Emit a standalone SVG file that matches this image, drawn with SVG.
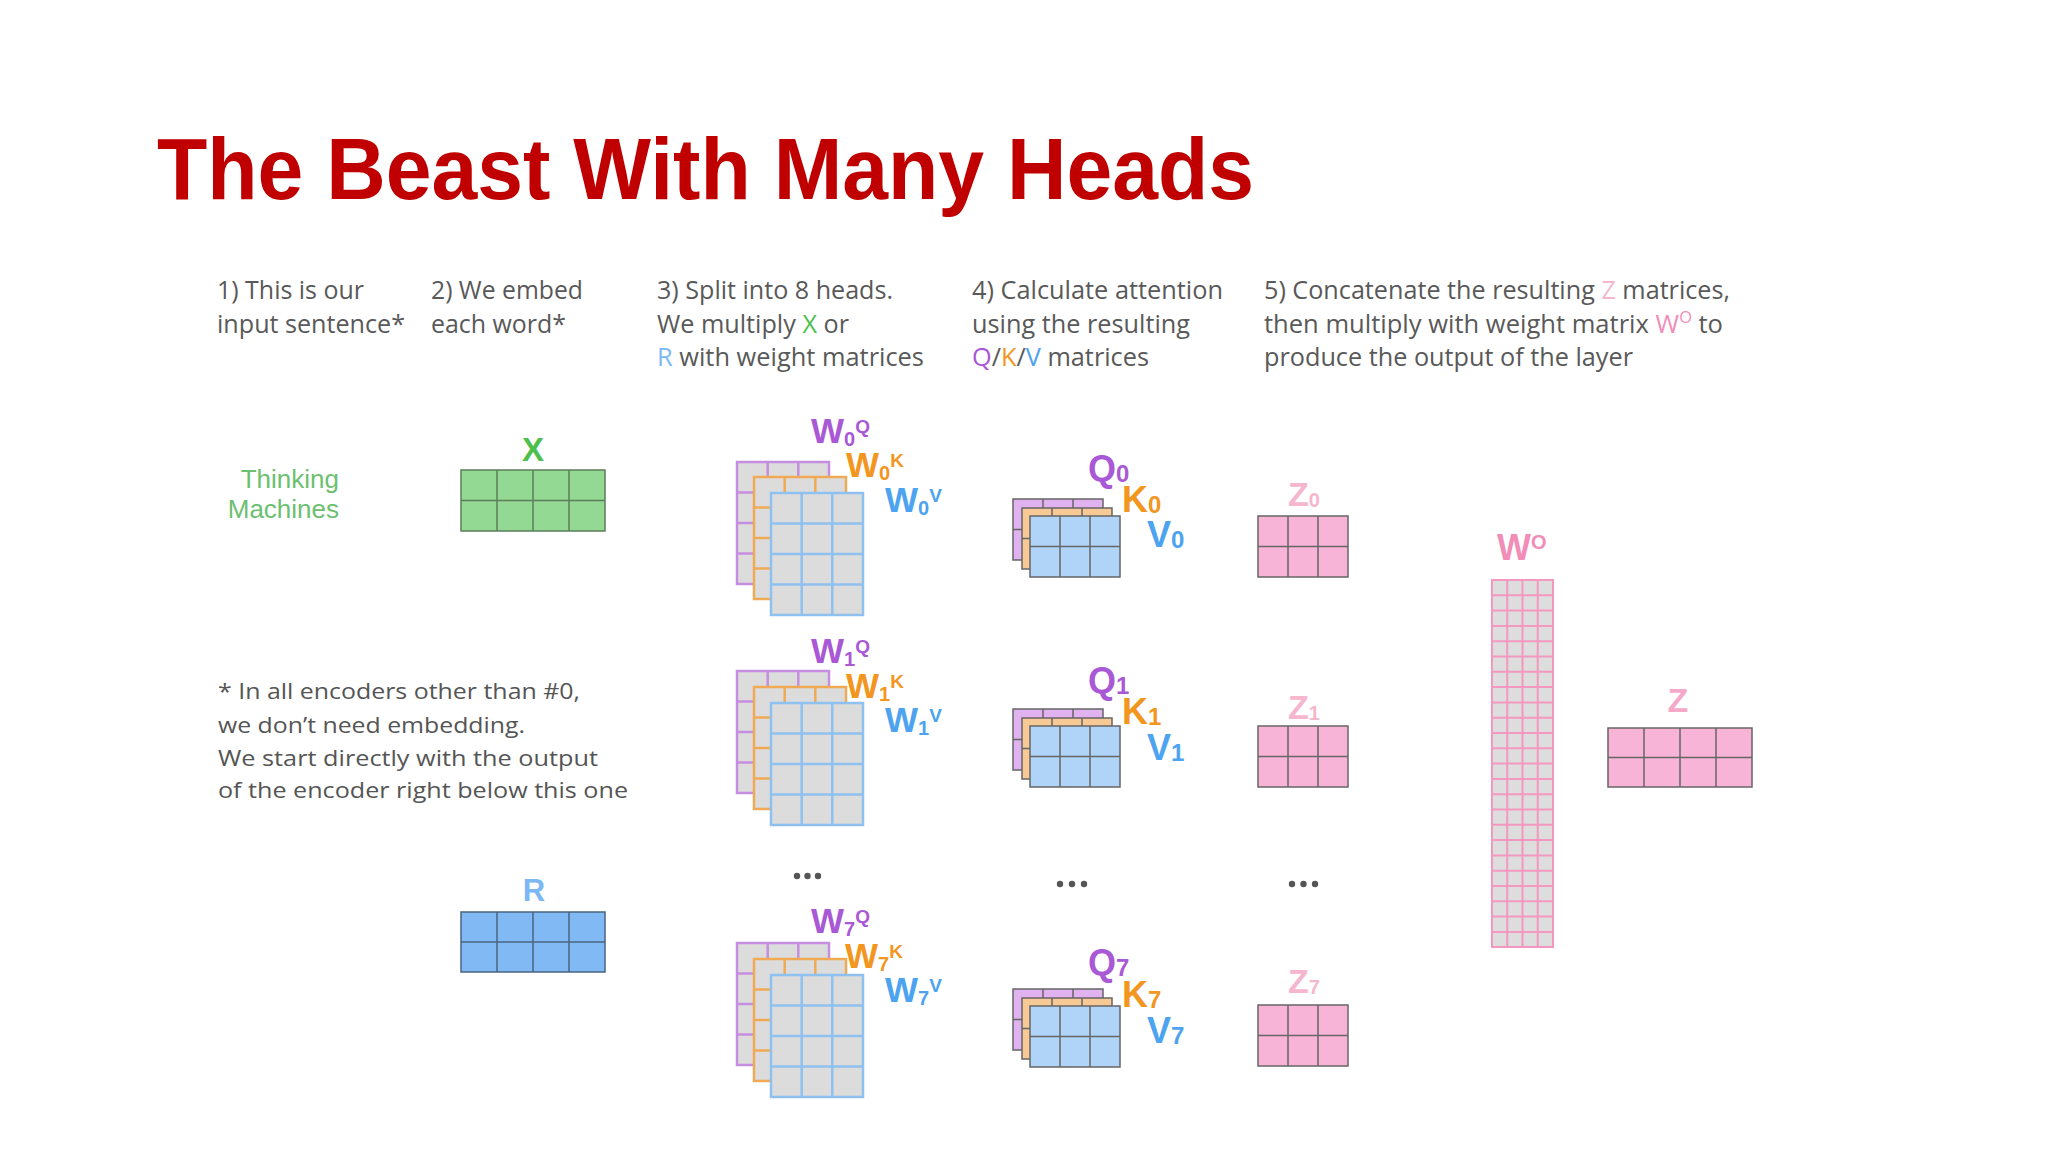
<svg xmlns="http://www.w3.org/2000/svg" xmlns:xlink="http://www.w3.org/1999/xlink" width="2048" height="1152" viewBox="0 0 2048 1152">
<style>
.title{font-family:"Liberation Sans",Arial,sans-serif;font-weight:bold;font-size:88px;fill:#C00000}
.step{font-family:"Open Sans","Liberation Sans",sans-serif;font-size:25px;fill:#595959}
.note{font-family:"Open Sans","Liberation Sans",sans-serif;font-size:21.5px;fill:#555}
.lbl{font-family:"Liberation Sans",Arial,sans-serif;font-weight:bold}
.wl{font-size:35px}
.wsub{font-size:20px}
.wsup{font-size:19px}
.ql{font-size:36px}
.qsub{font-size:24px}
.zl{font-size:34px}
.zsub{font-size:20px}
.pur{fill:#A958D6}.ora{fill:#F2961F}.blu{fill:#4DA3F0}
.grn{fill:#4CBF4C}.lblu{fill:#7CB9F4}.lpink{fill:#F5B6CE}.pink{fill:#F28DB8}
.thin{font-family:"Liberation Sans",Arial,sans-serif;font-size:26px;fill:#6CC070}
.dot{fill:#555}
</style>
<defs>
<g id="wm"><rect width="92" height="122" fill="#DCDCDC" stroke="currentColor" stroke-width="2.5"/><path d="M30.7 0V122M61.3 0V122M0 30.5H92M0 61H92M0 91.5H92" fill="none" stroke="currentColor" stroke-width="2.5"/></g>
<g id="qm"><rect width="90" height="61" fill="currentColor" stroke="#666" stroke-width="1.5"/><path d="M30 0V61M60 0V61M0 30.5H90" fill="none" stroke="#666" stroke-width="1.5"/></g>
</defs>
<rect width="2048" height="1152" fill="#FFFFFF"/>
<text class="title" x="157" y="199" textLength="1097" lengthAdjust="spacingAndGlyphs">The Beast With Many Heads</text>

<g id="step-texts">
<text class="step" x="217" y="299" textLength="147" lengthAdjust="spacingAndGlyphs">1) This is our</text>
<text class="step" x="217" y="333" textLength="188" lengthAdjust="spacingAndGlyphs">input sentence*</text>
<text class="step" x="431" y="299" textLength="152" lengthAdjust="spacingAndGlyphs">2) We embed</text>
<text class="step" x="431" y="333" textLength="135" lengthAdjust="spacingAndGlyphs">each word*</text>
<text class="step" x="657" y="299" textLength="236" lengthAdjust="spacingAndGlyphs">3) Split into 8 heads.</text>
<text class="step" x="657" y="333" textLength="192" lengthAdjust="spacingAndGlyphs">We multiply <tspan class="grn">X</tspan> or</text>
<text class="step" x="657" y="366" textLength="267" lengthAdjust="spacingAndGlyphs"><tspan class="lblu">R</tspan> with weight matrices</text>
<text class="step" x="972" y="299" textLength="251" lengthAdjust="spacingAndGlyphs">4) Calculate attention</text>
<text class="step" x="972" y="333" textLength="218" lengthAdjust="spacingAndGlyphs">using the resulting</text>
<text class="step" x="972" y="366" textLength="177" lengthAdjust="spacingAndGlyphs"><tspan class="pur">Q</tspan>/<tspan class="ora">K</tspan>/<tspan class="blu">V</tspan> matrices</text>
<text class="step" x="1264" y="299" textLength="466" lengthAdjust="spacingAndGlyphs">5) Concatenate the resulting <tspan class="lpink">Z</tspan> matrices,</text>
<text class="step" x="1264" y="333" textLength="459" lengthAdjust="spacingAndGlyphs">then multiply with weight matrix <tspan class="pink">W</tspan><tspan class="pink" font-size="16" dy="-10">O</tspan><tspan dy="10"> to</tspan></text>
<text class="step" x="1264" y="366" textLength="369" lengthAdjust="spacingAndGlyphs">produce the output of the layer</text>
</g>

<g id="footnote">
<text class="note" x="218" y="699" textLength="362" lengthAdjust="spacingAndGlyphs">* In all encoders other than #0,</text>
<text class="note" x="218" y="733" textLength="307" lengthAdjust="spacingAndGlyphs">we don’t need embedding.</text>
<text class="note" x="218" y="766" textLength="380" lengthAdjust="spacingAndGlyphs">We start directly with the output</text>
<text class="note" x="218" y="798" textLength="410" lengthAdjust="spacingAndGlyphs">of the encoder right below this one</text>
</g>

<g id="input-sentence">
<text class="thin" x="339" y="488" text-anchor="end">Thinking</text>
<text class="thin" x="339" y="518" text-anchor="end">Machines</text>
</g>

<g id="matrix-X">
<text class="lbl grn" x="533" y="461" font-size="33" text-anchor="middle">X</text>
<rect x="461" y="470" width="144" height="61" fill="#93D993" stroke="#5B7D5B" stroke-width="1.5"/>
<path d="M497 470V531M533 470V531M569 470V531M461 500.5H605" stroke="#5B7D5B" stroke-width="1.5"/>
</g>

<g id="matrix-R">
<text class="lbl lblu" x="534" y="901" font-size="31" text-anchor="middle">R</text>
<rect x="461" y="912" width="144" height="60" fill="#80B9F3" stroke="#4A6480" stroke-width="1.5"/>
<path d="M497 912V972M533 912V972M569 912V972M461 942H605" stroke="#4A6480" stroke-width="1.5"/>
</g>

<g id="weights-head0">
<use xlink:href="#wm" x="737" y="462" color="#C58EE0"/>
<use xlink:href="#wm" x="754" y="477" color="#F0AA55"/>
<use xlink:href="#wm" x="771" y="493" color="#8EC0F0"/>
<text class="lbl wl pur" x="811" y="443">W<tspan class="wsub" dy="3">0</tspan><tspan class="wsup" dy="-13">Q</tspan></text>
<text class="lbl wl ora" x="846" y="477">W<tspan class="wsub" dy="3">0</tspan><tspan class="wsup" dy="-13">K</tspan></text>
<text class="lbl wl blu" x="885" y="512">W<tspan class="wsub" dy="3">0</tspan><tspan class="wsup" dy="-13">V</tspan></text>
</g>

<g id="weights-head1">
<use xlink:href="#wm" x="737" y="671" color="#C58EE0"/>
<use xlink:href="#wm" x="754" y="687" color="#F0AA55"/>
<use xlink:href="#wm" x="771" y="703" color="#8EC0F0"/>
<text class="lbl wl pur" x="811" y="663">W<tspan class="wsub" dy="3">1</tspan><tspan class="wsup" dy="-13">Q</tspan></text>
<text class="lbl wl ora" x="846" y="698">W<tspan class="wsub" dy="3">1</tspan><tspan class="wsup" dy="-13">K</tspan></text>
<text class="lbl wl blu" x="885" y="732">W<tspan class="wsub" dy="3">1</tspan><tspan class="wsup" dy="-13">V</tspan></text>
</g>

<g id="weights-dots">
<circle class="dot" cx="797" cy="876" r="3.2"/><circle class="dot" cx="807.5" cy="876" r="3.2"/><circle class="dot" cx="818" cy="876" r="3.2"/>
</g>

<g id="weights-head7">
<use xlink:href="#wm" x="737" y="943" color="#C58EE0"/>
<use xlink:href="#wm" x="754" y="959" color="#F0AA55"/>
<use xlink:href="#wm" x="771" y="975" color="#8EC0F0"/>
<text class="lbl wl pur" x="811" y="933">W<tspan class="wsub" dy="3">7</tspan><tspan class="wsup" dy="-13">Q</tspan></text>
<text class="lbl wl ora" x="845" y="968">W<tspan class="wsub" dy="3">7</tspan><tspan class="wsup" dy="-13">K</tspan></text>
<text class="lbl wl blu" x="885" y="1002">W<tspan class="wsub" dy="3">7</tspan><tspan class="wsup" dy="-13">V</tspan></text>
</g>

<g id="qkv-head0">
<use xlink:href="#qm" x="1013" y="499" color="#E0B3F0"/>
<use xlink:href="#qm" x="1022" y="508" color="#F7C995"/>
<use xlink:href="#qm" x="1030" y="516" color="#B0D4F7"/>
<text class="lbl ql pur" x="1088" y="481">Q<tspan class="qsub" dy="1">0</tspan></text>
<text class="lbl ql ora" x="1122" y="512">K<tspan class="qsub" dy="1">0</tspan></text>
<text class="lbl ql blu" x="1147" y="547">V<tspan class="qsub" dy="1">0</tspan></text>
</g>

<g id="qkv-head1">
<use xlink:href="#qm" x="1013" y="709" color="#E0B3F0"/>
<use xlink:href="#qm" x="1022" y="718" color="#F7C995"/>
<use xlink:href="#qm" x="1030" y="726" color="#B0D4F7"/>
<text class="lbl ql pur" x="1088" y="693">Q<tspan class="qsub" dy="1">1</tspan></text>
<text class="lbl ql ora" x="1122" y="724">K<tspan class="qsub" dy="1">1</tspan></text>
<text class="lbl ql blu" x="1147" y="760">V<tspan class="qsub" dy="1">1</tspan></text>
</g>

<g id="qkv-dots">
<circle class="dot" cx="1060" cy="884" r="3.2"/><circle class="dot" cx="1072" cy="884" r="3.2"/><circle class="dot" cx="1084" cy="884" r="3.2"/>
</g>

<g id="qkv-head7">
<use xlink:href="#qm" x="1013" y="989" color="#E0B3F0"/>
<use xlink:href="#qm" x="1022" y="998" color="#F7C995"/>
<use xlink:href="#qm" x="1030" y="1006" color="#B0D4F7"/>
<text class="lbl ql pur" x="1088" y="975">Q<tspan class="qsub" dy="1">7</tspan></text>
<text class="lbl ql ora" x="1122" y="1007">K<tspan class="qsub" dy="1">7</tspan></text>
<text class="lbl ql blu" x="1147" y="1043">V<tspan class="qsub" dy="1">7</tspan></text>
</g>

<g id="z-head0">
<text class="lbl zl lpink" x="1288" y="506">Z<tspan class="zsub" dy="1">0</tspan></text>
<use xlink:href="#qm" x="1258" y="516" color="#F8B4D6"/>
</g>
<g id="z-head1">
<text class="lbl zl lpink" x="1288" y="719">Z<tspan class="zsub" dy="1">1</tspan></text>
<use xlink:href="#qm" x="1258" y="726" color="#F8B4D6"/>
</g>
<g id="z-dots">
<circle class="dot" cx="1292" cy="884" r="3.2"/><circle class="dot" cx="1303.5" cy="884" r="3.2"/><circle class="dot" cx="1315" cy="884" r="3.2"/>
</g>
<g id="z-head7">
<text class="lbl zl lpink" x="1288" y="993">Z<tspan class="zsub" dy="1">7</tspan></text>
<use xlink:href="#qm" x="1258" y="1005" color="#F8B4D6"/>
</g>

<g id="matrix-WO">
<text class="lbl pink" x="1497" y="560" font-size="36">W<tspan font-size="20" dy="-11">O</tspan></text>
<rect x="1492" y="580" width="61" height="367" fill="#DDDDDD" stroke="#F598C0" stroke-width="2"/>
<path transform="translate(1492 580)" fill="none" stroke="#F598C0" stroke-width="2" d="M15.25 0V367M30.5 0V367M45.75 0V367M0 15.3H61M0 30.6H61M0 45.9H61M0 61.2H61M0 76.5H61M0 91.8H61M0 107.1H61M0 122.4H61M0 137.7H61M0 153H61M0 168.3H61M0 183.6H61M0 198.9H61M0 214.2H61M0 229.5H61M0 244.8H61M0 260.1H61M0 275.4H61M0 290.7H61M0 306H61M0 321.3H61M0 336.6H61M0 351.9H61"/>
</g>

<g id="matrix-Z">
<text class="lbl zl" x="1678" y="712" text-anchor="middle" fill="#F5A8C8">Z</text>
<rect x="1608" y="728" width="144" height="59" fill="#F8B4D6" stroke="#666" stroke-width="1.5"/>
<path d="M1644 728V787M1680 728V787M1716 728V787M1608 757.5H1752" stroke="#666" stroke-width="1.5"/>
</g>

<g id="connectors"/>
</svg>
